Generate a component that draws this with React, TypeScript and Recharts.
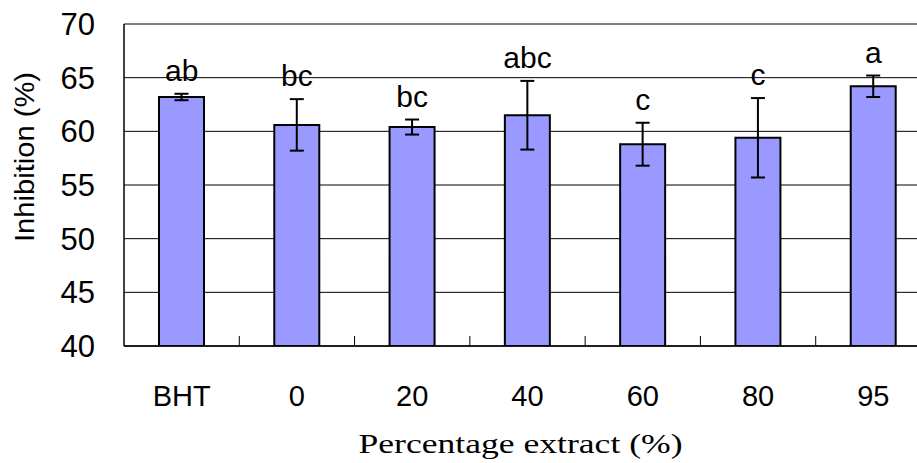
import React from "react";
import {
  ComposedChart,
  Bar,
  Line,
  XAxis,
  YAxis,
  CartesianGrid,
  ErrorBar,
  LabelList,
  Label,
} from "recharts";

const categories = ["BHT", "0", "20", "40", "60", "80", "95"];
const inhibition = [63.2, 60.6, 60.4, 61.5, 58.8, 59.4, 64.2];
const errors = [0.3, 2.4, 0.7, 3.2, 2.0, 3.7, 1.0];
const letters = ["ab", "bc", "bc", "abc", "c", "c", "a"];
const yTicks = [40, 45, 50, 55, 60, 65, 70];

const data = categories.map((name, i) => ({
  name,
  value: inhibition[i],
  err: errors[i],
  top: inhibition[i] + errors[i],
  letter: letters[i],
}));

const sans = "'Liberation Sans', Arial, sans-serif";
const serif = "'Liberation Serif', 'Times New Roman', serif";

// x tick: label under the bar + inward tick mark at the right edge of the category
const XTick = (props: any) => {
  const { x, y, payload } = props;
  const half = payload && payload.offset ? payload.offset : 0;
  return (
    <g>
      <line x1={x + half} x2={x + half} y1={y} y2={y - 10} stroke="#000" strokeWidth={1} />
      <text x={x} y={y + 60} textAnchor="middle" fontSize={29} fontFamily={sans} fill="#000">
        {payload.value}
      </text>
    </g>
  );
};

const XTitle = (props: any) => {
  const vb = props.viewBox;
  return (
    <text
      x={vb.x + vb.width / 2 - 7}
      y={453}
      textAnchor="middle"
      fontSize={28}
      fontFamily={serif}
      fill="#000"
      textLength={324}
      lengthAdjust="spacingAndGlyphs"
    >
      Percentage extract (%)
    </text>
  );
};

const YTitle = () => {
  const cx = 34;
  const cy = 157;
  return (
    <text
      x={cx}
      y={cy}
      transform={`rotate(-90 ${cx} ${cy})`}
      textAnchor="middle"
      fontSize={27}
      fontFamily={sans}
      fill="#000"
      textLength={170}
      lengthAdjust="spacingAndGlyphs"
    >
      Inhibition (%)
    </text>
  );
};

export default function App() {
  return (
    <div
      style={{
        position: "absolute",
        left: 0,
        top: 0,
        width: 917,
        height: 463,
        overflow: "hidden",
        background: "#fff",
      }}
    >
      <ComposedChart
        width={935}
        height={463}
        data={data}
        barSize={45}
        margin={{ top: 24, right: 4, left: 0, bottom: 0 }}
      >
        <CartesianGrid vertical={false} stroke="#000" strokeWidth={1} />
        <XAxis
          dataKey="name"
          height={117}
          axisLine={{ stroke: "#000", strokeWidth: 1.5 }}
          tickLine={false}
          tickSize={0}
          tickMargin={0}
          tick={<XTick />}
          interval={0}
        >
          <Label content={<XTitle />} />
        </XAxis>
        <YAxis
          width={124}
          domain={[40, 70]}
          ticks={yTicks}
          allowDataOverflow
          axisLine={{ stroke: "#000", strokeWidth: 1.5 }}
          tickLine={false}
          tickSize={0}
          tickMargin={29}
          tick={{ fill: "#000", fontSize: 31, fontFamily: sans }}
        >
          <Label content={<YTitle />} />
        </YAxis>
        <Bar
          dataKey="value"
          fill="#9999FF"
          stroke="#000"
          strokeWidth={2}
          isAnimationActive={false}
        >
          <ErrorBar dataKey="err" stroke="#000" strokeWidth={2} width={7} />
        </Bar>
        <Line
          dataKey="top"
          stroke="none"
          dot={false}
          activeDot={false}
          legendType="none"
          isAnimationActive={false}
        >
          <LabelList
            dataKey="letter"
            position="top"
            offset={13}
            fill="#000"
            fontSize={30}
            fontFamily={sans}
          />
        </Line>
      </ComposedChart>
    </div>
  );
}
